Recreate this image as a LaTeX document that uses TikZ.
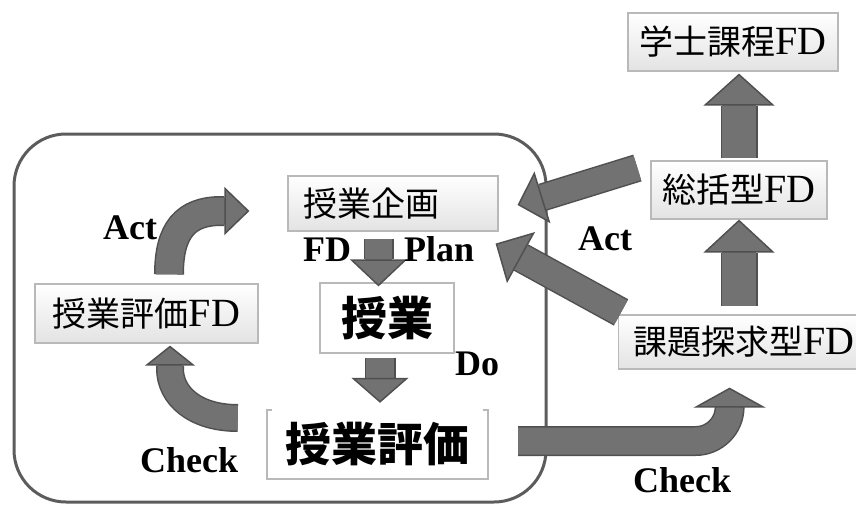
\documentclass[tikz,border=0pt]{standalone}
\usepackage{fontspec}
\setmainfont{Liberation Serif}
\newfontfamily\cjk{Noto Sans CJK JP}
\usetikzlibrary{arrows.meta,calc}
\definecolor{arrowgray}{HTML}{727272}
\definecolor{arrowedge}{HTML}{505050}
\definecolor{framegray}{HTML}{5C5C5C}
\newcommand{\fdtag}{{\rmfamily\fontsize{40}{40}\selectfont FD}}
\tikzstyle{fdbox}=[draw=gray!55,line width=1.2pt,top color=white,bottom color=gray!22,inner sep=0pt,font=\cjk\fontsize{34}{40}\selectfont]
\tikzstyle{jbox}=[inner sep=0pt,font=\cjk\bfseries\fontsize{46}{52}\selectfont]
\tikzstyle{pdca}=[anchor=base west,inner sep=0pt,font=\bfseries\fontsize{36}{40}\selectfont]
\tikzset{blk/.style n args={3}{draw=arrowgray,line width=#1pt,
  -{Triangle[width=#2pt,length=#3pt,line width=1.5pt,color=arrowedge,fill=arrowgray]},
  preaction={draw=arrowedge,line width=#1pt+3pt,-,shorten >=#3pt}}}

\begin{document}
\begin{tikzpicture}[x=1pt,y=-1pt]
\useasboundingbox (0,0) rectangle (856,506);
\draw[framegray,line width=3pt,rounded corners=52pt] (14,134) rectangle (546,502);

\node[fdbox,minimum width=210pt,minimum height=55pt,text width=180pt,align=left] (kikaku) at (393,203.5) {授業企画};
\node[jbox,draw=gray!55,line width=1.2pt,fill=white,minimum width=134pt,minimum height=70pt] (jugyo) at (387,318) {授業};
\node[fdbox,minimum width=223pt,minimum height=59pt] (hyokaFD) at (146.5,313.5) {授業評価\fdtag};
\node[jbox,minimum width=221pt,minimum height=69pt] (hyoka) at (377.5,444.5) {授業評価};
\draw[gray!55,line width=1.5pt] ($(hyoka.north west)+(5,0)$) -- (hyoka.north west) -- (hyoka.south west) -- (hyoka.south east) -- (hyoka.north east) -- ++(-5,0);
\node[fdbox,minimum width=210pt,minimum height=58pt] (gakushi) at (733,42) {学士課程\fdtag};
\node[fdbox,minimum width=176pt,minimum height=58pt] (sokatsu) at (739,190) {総括型\fdtag};
\node[fdbox,anchor=west,minimum width=257pt,minimum height=54pt,text width=227pt,align=left] (kadai) at (618,342) {課題探求型\fdtag};

\draw[blk={34}{71}{32}] ($(sokatsu.north)+(0,-2)$) -- ($(sokatsu.north |- gakushi.south)+(0,2)$);
\draw[blk={34}{71}{33}] ($(sokatsu.south |- kadai.north)+(0,-8)$) -- (sokatsu.south);
\draw[blk={27}{57}{27}] ($(kikaku.south)+(-14.5,7)$) -- ($(jugyo.north)+(-8.5,4)$);
\draw[blk={28}{57}{25}] ($(jugyo.south)+(-7,4)$) -- ($(jugyo.south |- hyoka.north)+(-7,-7)$);
\draw[blk={25}{54}{26}] ($(sokatsu.west)+(-13,-22)$) -- ($(kikaku.east)+(19,1.5)$);
\draw[blk={27}{58}{29}] ($(kadai.north west)+(3,-2)$) -- ($(kikaku.south east)+(-3,12)$);
\draw[blk={27}{72}{20},rounded corners=34pt] ($(hyoka.east)+(30,-3.5)$) -| ($(kadai.south)+(-17.5,18)$);
\draw[blk={27}{48}{25}] ($(hyokaFD.north)+(22.5,-9)$) .. controls +(0,-44) and +(-36,0) .. ($(kikaku.west)+(-66,7.5)$) -- ++(28,0);
\draw[blk={25}{50}{20}] ($(hyoka.west)+(-29,-26.5)$) .. controls +(-43,0) and +(0,27) .. ($(hyokaFD.south)+(23.5,25)$) -- ++(0,-23);

\node[pdca] (actL) at (103,239) {Act};
\node[pdca] (checkL) at (140,472) {Check};
\node[pdca] (fd) at (303,261) {FD};
\node[pdca] (plan) at (404,261) {Plan};
\node[pdca] (do) at (455,375) {Do};
\node[pdca] (actR) at (578,250) {Act};
\node[pdca] (checkR) at (633,492) {Check};
\end{tikzpicture}
\end{document}
